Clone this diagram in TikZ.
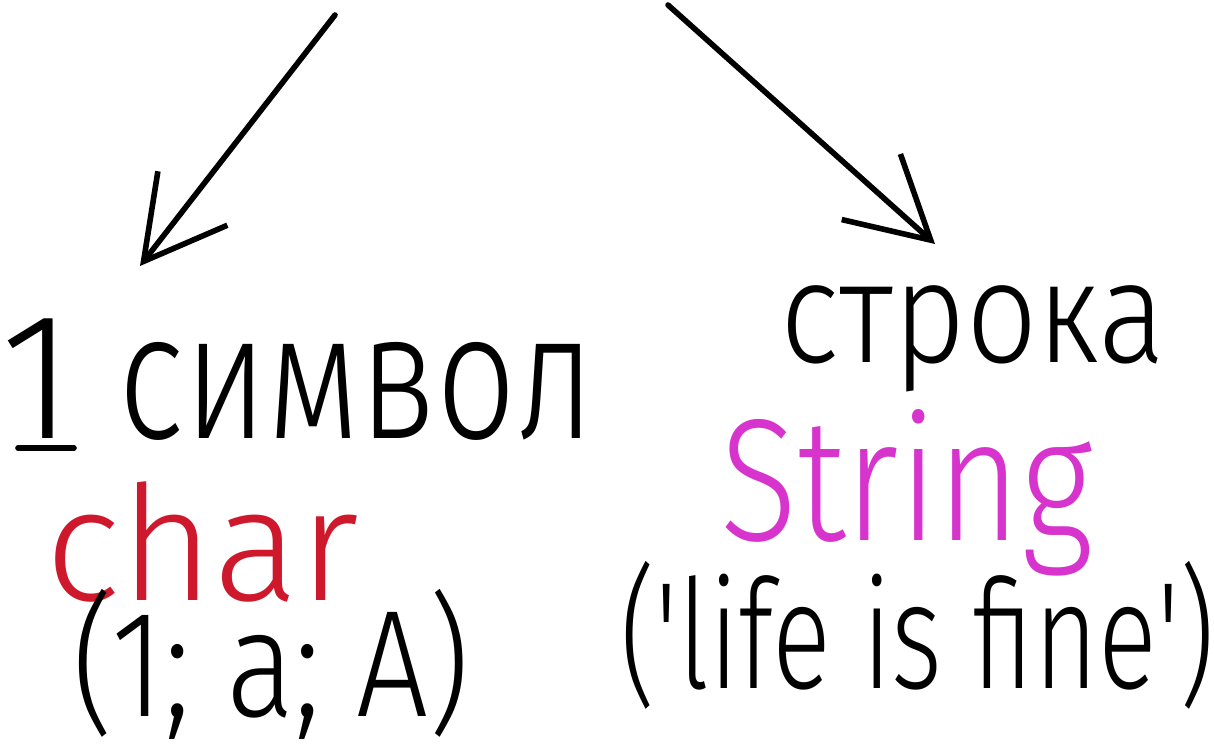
\documentclass[tikz,border=0pt]{standalone}
\usepackage{fontspec}
\setmainfont{Fira Sans Light}
\usepackage{graphicx}
\usetikzlibrary{arrows.meta}
\usetikzlibrary{positioning}
\definecolor{charred}{RGB}{206,24,44}
\definecolor{strmag}{RGB}{214,52,204}
\tikzset{
    word/.style={
           inner sep=0pt,
           anchor=base west,
           },
}
\tikzset{
    pen/.style={
           line width=2.8pt,
           line cap=round,
           line join=round,
           },
}
\tikzset{
    pointer/.style={
           pen,
           -{Straight Barb[length=40pt,width=44pt]},
           },
}

\begin{document}
\begin{tikzpicture}[x=0.5pt,y=-0.5pt]
\useasboundingbox (0,0) rectangle (1214,749);
\coordinate (fromL) at (335,15);
\coordinate (toL) at (140,266);
\coordinate (fromR) at (668,5);
\coordinate (toR) at (935,244);
\draw[pointer] (fromL) -- (toL);
\draw[pointer] (fromR) -- (toR);
% left side
\node[word,font=\fontsize{90}{90}\selectfont](one) at (0,438){1};
\node[word,font=\fontsize{90}{90}\selectfont](simvol) at (118,438){\scalebox{0.78}[1]{символ}};
\draw[pen] ([xshift=9pt,yshift=-5pt]one.base west) -- ([xshift=37pt,yshift=-5pt]one.base west);
\node[word,font=\fontsize{80}{80}\selectfont,text=charred](char) at (45,600){char};
\node[word,font=\fontsize{76}{76}\selectfont](chex) at (72,716){\scalebox{0.84}[1]{(1; a; A)}};
% right side
\node[word,font=\fontsize{72}{72}\selectfont](stroka) at (780,362){\scalebox{0.87}[1]{строка}};
\node[word,font=\fontsize{87}{87}\selectfont,text=strmag](string) at (720,540){\scalebox{0.82}[1]{String}};
\node[word,font=\fontsize{76}{76}\selectfont](strex) at (620,688){\scalebox{0.72}[1]{(\textquotesingle life is fine\textquotesingle)}};
\end{tikzpicture}
\end{document}
